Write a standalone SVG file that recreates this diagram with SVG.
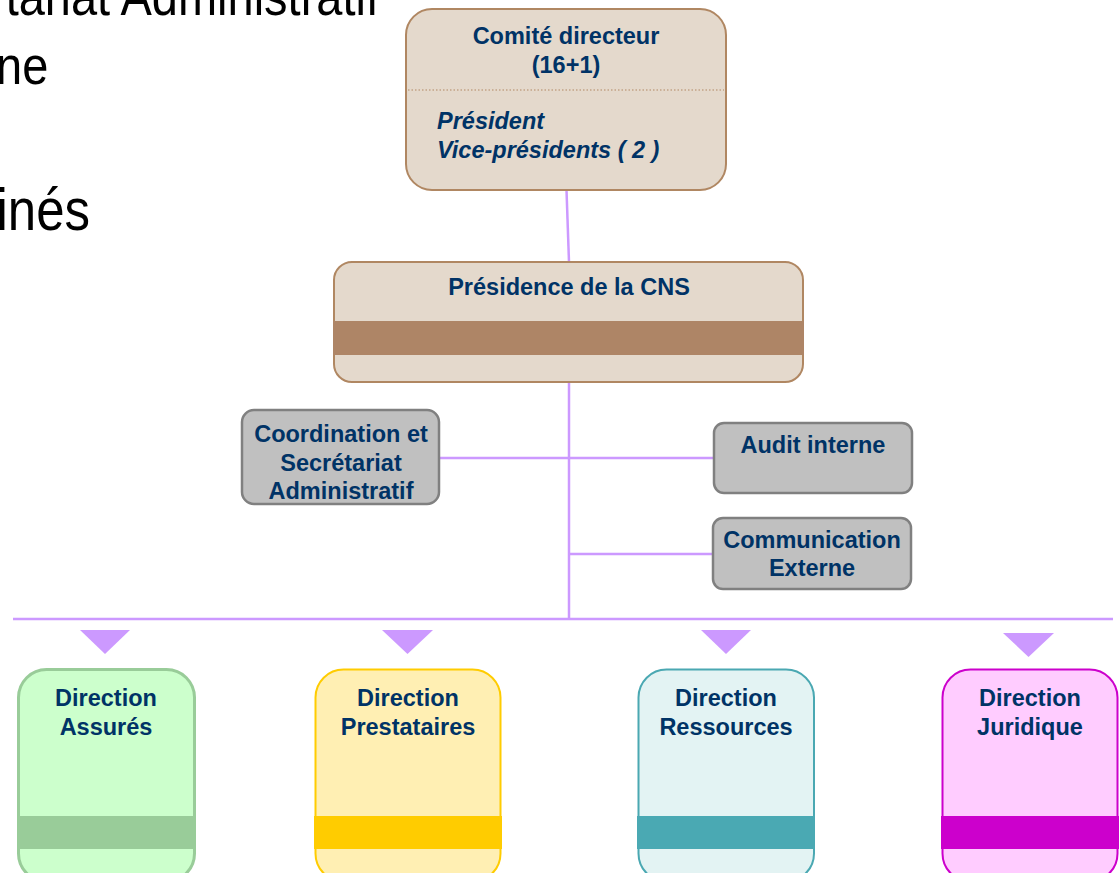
<svg xmlns="http://www.w3.org/2000/svg" width="1119" height="873" viewBox="0 0 1119 873">
<style>
.bg{font-family:"Liberation Sans",Arial,sans-serif;font-size:47px;fill:#000}
.t{font-family:"Liberation Sans",Arial,sans-serif;font-weight:bold;font-size:23.5px;fill:#003366;text-anchor:middle}
.ti{font-family:"Liberation Sans",Arial,sans-serif;font-weight:bold;font-style:italic;font-size:23.5px;fill:#003366}
.brown{fill:#E4D9CC;stroke:#B08762;stroke-width:2}
.gray{fill:#C0C0C0;stroke:#808080;stroke-width:2.5}
.conn{stroke:#CC99FF;stroke-width:2.5;fill:none}
.tri{fill:#CC99FF}
</style>
<rect width="1119" height="873" fill="#FFFFFF"/>
<g id="background-text" transform="scale(1,1.15)">
<text class="bg" x="379" y="13" text-anchor="end">tariat Administratif</text>
<text class="bg" x="-4" y="73">ne</text>
<text class="bg" x="90" y="200" text-anchor="end" style="font-size:51px">inés</text>
</g>
<g id="connectors">
<line class="conn" x1="566.5" y1="190" x2="569" y2="262"/>
<line class="conn" x1="569" y1="382" x2="569" y2="619"/>
<line class="conn" x1="440" y1="458" x2="714" y2="458"/>
<line class="conn" x1="569" y1="554" x2="713" y2="554"/>
<line class="conn" x1="13" y1="619" x2="1113" y2="619"/>
<polygon class="tri" points="80,630 130,630 105,654"/>
<polygon class="tri" points="382,630 433,630 407.5,654"/>
<polygon class="tri" points="701,630 751,630 726,654"/>
<polygon class="tri" points="1003,633 1054,633 1028.5,657"/>
</g>
<g id="comite">
<rect class="brown" x="406" y="9" width="320" height="181" rx="26"/>
<line x1="408" y1="90" x2="724" y2="90" stroke="#B08762" stroke-width="1.2" stroke-dasharray="1.5 2"/>
<text class="t" x="566" y="44">Comité directeur</text>
<text class="t" x="566" y="73">(16+1)</text>
<text class="ti" x="437" y="129">Président</text>
<text class="ti" x="437" y="158">Vice-présidents ( 2 )</text>
</g>
<g id="presidence">
<rect class="brown" x="334" y="262" width="469" height="120" rx="18"/>
<rect x="333" y="321" width="471" height="34" fill="#AE8566"/>
<text class="t" x="569" y="295">Présidence de la CNS</text>
</g>
<g id="coordination">
<rect class="gray" x="242" y="410" width="197" height="94" rx="12"/>
<text class="t" x="341" y="442">Coordination et</text>
<text class="t" x="341" y="471">Secrétariat</text>
<text class="t" x="341" y="499">Administratif</text>
</g>
<g id="audit">
<rect class="gray" x="714" y="423" width="198" height="70" rx="10"/>
<text class="t" x="813" y="453">Audit interne</text>
</g>
<g id="communication">
<rect class="gray" x="713" y="518" width="198" height="71" rx="10"/>
<text class="t" x="812" y="548">Communication</text>
<text class="t" x="812" y="576">Externe</text>
</g>
<g id="dir-assures">
<rect x="18.5" y="669.5" width="176" height="212" rx="28" fill="#CCFFCC" stroke="#99CC99" stroke-width="3"/>
<rect x="17" y="816" width="179" height="33" fill="#99CC99"/>
<text class="t" x="106" y="706">Direction</text>
<text class="t" x="106" y="735">Assurés</text>
</g>
<g id="dir-prestataires">
<rect x="315.5" y="669.5" width="185" height="212" rx="28" fill="#FFEFB3" stroke="#FFCC00" stroke-width="2"/>
<rect x="314" y="816" width="188" height="33" fill="#FFCC00"/>
<text class="t" x="408" y="706">Direction</text>
<text class="t" x="408" y="735">Prestataires</text>
</g>
<g id="dir-ressources">
<rect x="638.5" y="669.5" width="175.5" height="212" rx="28" fill="#E3F3F3" stroke="#4AA8B2" stroke-width="2"/>
<rect x="637" y="816" width="178" height="33" fill="#4AA9B3"/>
<text class="t" x="726" y="706">Direction</text>
<text class="t" x="726" y="735">Ressources</text>
</g>
<g id="dir-juridique">
<rect x="942.5" y="669.5" width="175" height="212" rx="28" fill="#FFCCFF" stroke="#CC00CC" stroke-width="2"/>
<rect x="941" y="816" width="178" height="33" fill="#CC00CC"/>
<text class="t" x="1030" y="706">Direction</text>
<text class="t" x="1030" y="735">Juridique</text>
</g>
</svg>
